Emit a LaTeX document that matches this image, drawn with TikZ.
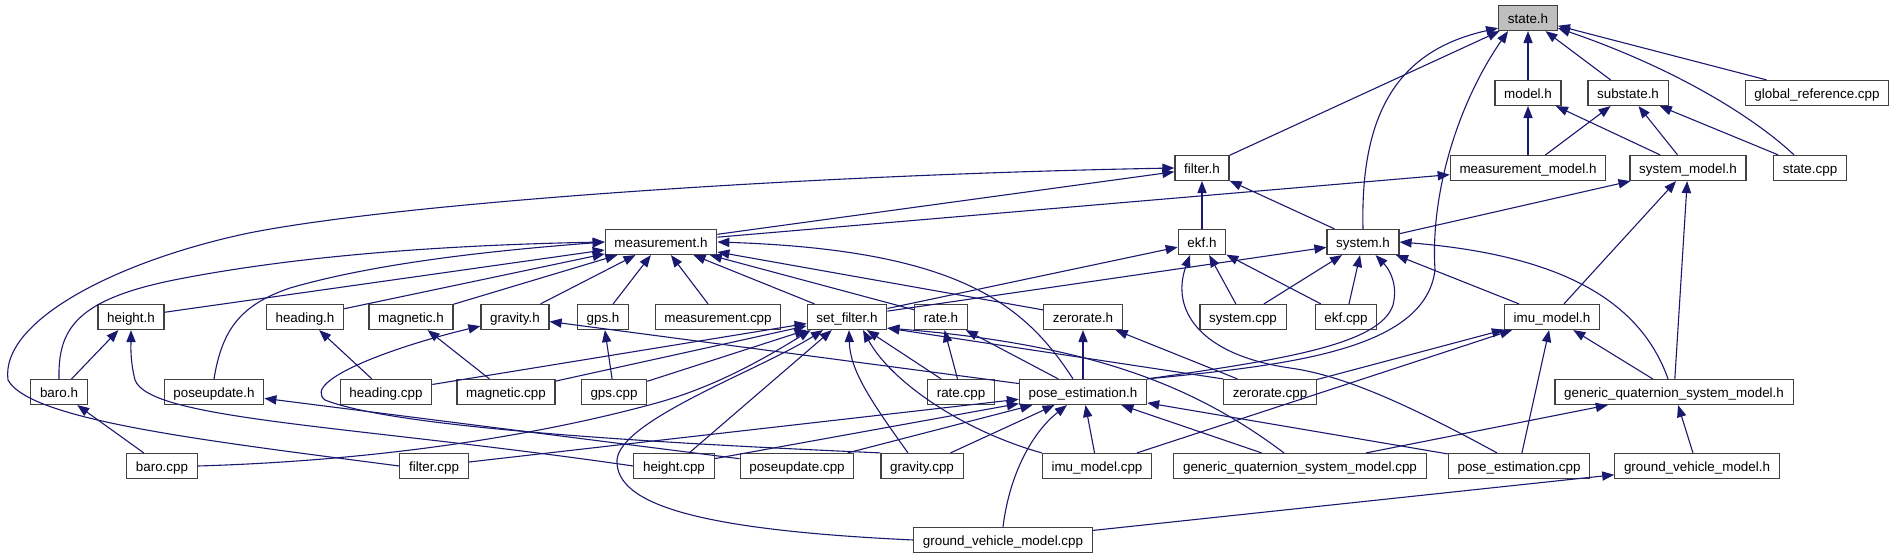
\documentclass[tikz,border=0pt]{standalone}
\usepackage{fontspec}
\setmainfont{Liberation Sans}
\usetikzlibrary{arrows.meta}
\definecolor{edgeblue}{HTML}{191970}

\begin{document}
\begin{tikzpicture}[x=0.5pt, y=-0.5pt,
            file/.style={draw=black!75, line width=0.6pt, fill=white, minimum height=12.5pt,
                inner xsep=4.6pt, inner ysep=0pt, text height=0.72em, text depth=0.2em,
                font=\fontsize{6.7}{8}\selectfont},
            dep/.style={draw=edgeblue, line width=0.55pt, -{Triangle[length=6pt, width=4.6pt]}}]
            \useasboundingbox (0,0) rectangle (1893,560);

            \node[file, fill=black!25] (state) at (1528,18) {state.h};

            \node[file] (model) at (1528,93) {model.h};
            \node[file] (substate) at (1628,93) {substate.h};
            \node[file] (globalref) at (1817,93) {global\_reference.cpp};

            \node[file] (filter) at (1202,168) {filter.h};
            \node[file] (measmodel) at (1528,168) {measurement\_model.h};
            \node[file] (sysmodel) at (1688,168) {system\_model.h};
            \node[file] (statecpp) at (1810,168) {state.cpp};

            \node[file] (meas) at (661,242) {measurement.h};
            \node[file] (ekf) at (1202,242) {ekf.h};
            \node[file] (system) at (1363,242) {system.h};

            \node[file] (height) at (131,317) {height.h};
            \node[file] (heading) at (305,317) {heading.h};
            \node[file] (magnetic) at (411,317) {magnetic.h};
            \node[file] (gravity) at (515,317) {gravity.h};
            \node[file] (gps) at (603,317) {gps.h};
            \node[file] (meascpp) at (718,317) {measurement.cpp};
            \node[file] (setfilter) at (847,317) {set\_filter.h};
            \node[file] (rate) at (941,317) {rate.h};
            \node[file] (zerorate) at (1083,317) {zerorate.h};
            \node[file] (syscpp) at (1243,317) {system.cpp};
            \node[file] (ekfcpp) at (1346,317) {ekf.cpp};
            \node[file] (imu) at (1552,317) {imu\_model.h};

            \node[file] (baro) at (59,392) {baro.h};
            \node[file] (poseupd) at (214,392) {poseupdate.h};
            \node[file] (headingcpp) at (386,392) {heading.cpp};
            \node[file] (magcpp) at (506,392) {magnetic.cpp};
            \node[file] (gpscpp) at (614,392) {gps.cpp};
            \node[file] (ratecpp) at (961,392) {rate.cpp};
            \node[file] (pose) at (1083,392) {pose\_estimation.h};
            \node[file] (zeroratecpp) at (1270,392) {zerorate.cpp};
            \node[file] (gqsm) at (1674,392) {generic\_quaternion\_system\_model.h};

            \node[file] (barocpp) at (162,466) {baro.cpp};
            \node[file] (filtercpp) at (434,466) {filter.cpp};
            \node[file] (heightcpp) at (674,466) {height.cpp};
            \node[file] (poseupdcpp) at (797,466) {poseupdate.cpp};
            \node[file] (gravitycpp) at (922,466) {gravity.cpp};
            \node[file] (imucpp) at (1097,466) {imu\_model.cpp};
            \node[file] (gqsmcpp) at (1300,466) {generic\_quaternion\_system\_model.cpp};
            \node[file] (posecpp) at (1519,466) {pose\_estimation.cpp};
            \node[file] (gvm) at (1697,466) {ground\_vehicle\_model.h};

            \node[file] (gvmcpp) at (1003,540) {ground\_vehicle\_model.cpp};

            \draw[dep] (filter) -- (state);
            \draw[dep] (system.north) .. controls (1360,110) and (1400,50) .. ([yshift=1.5pt]state.south west);
            \draw[dep] (pose.north east) .. controls (1290,365) and (1425,350) .. (1435,270)
                .. controls (1430,190) and (1460,100) .. ([xshift=-10pt]state.south);
            \draw[dep] (model) -- (state);
            \draw[dep] (substate) -- (state);
            \draw[dep] ([xshift=-8pt]statecpp.north) .. controls (1757,120) and (1680,70) .. ([yshift=1.5pt]state.south east);
            \draw[dep] (globalref) -- (state);

            \draw[dep] (measmodel) -- (model);
            \draw[dep] (sysmodel) -- (model);
            \draw[dep] (measmodel) -- (substate);
            \draw[dep] (sysmodel) -- (substate);
            \draw[dep] (statecpp) -- (substate);

            \draw[dep] (meas) -- (filter);
            \draw[dep] (ekf) -- (filter);
            \draw[dep] (system) -- (filter);
            \draw[dep] (filtercpp.west) .. controls (200,440) and (30,420) .. (8,380)
                .. controls (0,320) and (120,260) .. (249,233)
                .. controls (400,203) and (800,175) .. (filter.west);
            \draw[dep] (meas) -- (measmodel);
            \draw[dep] (system) -- (sysmodel);
            \draw[dep] (imu) -- (sysmodel);
            \draw[dep] (gqsm) -- (sysmodel);

            \draw[dep] (setfilter) -- (ekf);
            \draw[dep] (syscpp) -- (ekf);
            \draw[dep] (ekfcpp) -- (ekf);
            \draw[dep] ([xshift=-11pt]posecpp.north) .. controls (1400,400) and (1340,375) .. (1290,368)
                .. controls (1200,355) and (1170,310) .. ([xshift=-6pt]ekf.south);
            \draw[dep] (setfilter) -- (system);
            \draw[dep] (syscpp) -- (system);
            \draw[dep] (ekfcpp) -- (system);
            \draw[dep] (pose.north east) .. controls (1280,360) and (1380,345) .. (1393,305)
                .. controls (1398,285) and (1390,270) .. ([xshift=-12pt]system.south east);
            \draw[dep] (imu) -- (system);
            \draw[dep] ([xshift=-3pt]gqsm.north) .. controls (1640,300) and (1560,255) .. (system.east);

            \draw[dep] (baro.north) .. controls (58,330) and (75,300) .. (174,280)
                .. controls (300,255) and (450,245) .. (meas.west);
            \draw[dep] (height) -- (meas);
            \draw[dep] (poseupd.north) .. controls (222,330) and (240,305) .. (290,288)
                .. controls (380,262) and (500,250) .. (meas.west);
            \draw[dep] (heading) -- (meas);
            \draw[dep] (magnetic) -- (meas);
            \draw[dep] (gravity) -- (meas);
            \draw[dep] (gps) -- (meas);
            \draw[dep] (meascpp) -- (meas);
            \draw[dep] (setfilter) -- (meas);
            \draw[dep] (rate) -- (meas);
            \draw[dep] (zerorate) -- (meas);
            \draw[dep] ([xshift=-5pt]pose.north) .. controls (1025,305) and (960,250) .. (meas.east);

            \draw[dep] (baro) -- (height);
            \draw[dep] (heightcpp.west) .. controls (350,425) and (150,420) .. (135,380)
                .. controls (130,360) and (131,345) .. (height.south);
            \draw[dep] (headingcpp) -- (heading);
            \draw[dep] (magcpp) -- (magnetic);
            \draw[dep] (gravitycpp.north west) .. controls (700,445) and (400,430) .. (325,400)
                .. controls (300,380) and (400,345) .. ([yshift=2pt]gravity.south west);
            \draw[dep] (pose) -- (gravity);
            \draw[dep] (gpscpp) -- (gps);

            \draw[dep] (headingcpp) -- (setfilter);
            \draw[dep] (magcpp) -- (setfilter);
            \draw[dep] (gpscpp) -- (setfilter);
            \draw[dep] (barocpp.east) .. controls (400,460) and (560,430) .. (660,402)
                .. controls (720,385) and (770,355) .. ([xshift=2pt]setfilter.south west);
            \draw[dep] (gvmcpp.west) .. controls (700,530) and (615,505) .. (617,460)
                .. controls (620,420) and (760,370) .. ([xshift=-12pt]setfilter.south);
            \draw[dep] (heightcpp) -- (setfilter);
            \draw[dep] ([xshift=-7pt]gravitycpp.north) .. controls (870,400) and (850,370) .. ([xshift=1pt]setfilter.south);
            \draw[dep] (imucpp.north west) .. controls (960,430) and (890,380) .. ([xshift=8pt]setfilter.south);
            \draw[dep] (ratecpp) -- (setfilter);
            \draw[dep] (zeroratecpp.north west) -- ([yshift=1pt]setfilter.south east);
            \draw[dep] ([xshift=-8pt]gqsmcpp.north) .. controls (1200,390) and (1100,345) .. ([yshift=1pt]setfilter.south east);

            \draw[dep] (ratecpp) -- (rate);
            \draw[dep] (pose) -- (rate);
            \draw[dep] (pose) -- (zerorate);
            \draw[dep] (zeroratecpp) -- (zerorate);

            \draw[dep] (zeroratecpp) -- (imu);
            \draw[dep] (imucpp) -- (imu);
            \draw[dep] (posecpp) -- (imu);
            \draw[dep] (gqsm) -- (imu);

            \draw[dep] (barocpp) -- (baro);
            \draw[dep] (poseupdcpp) -- (poseupd);

            \draw[dep] (filtercpp) -- (pose);
            \draw[dep] (heightcpp) -- (pose);
            \draw[dep] (poseupdcpp) -- (pose);
            \draw[dep] (gravitycpp) -- (pose);
            \draw[dep] (gvmcpp.north) .. controls (1010,470) and (1035,430) .. ([xshift=-8pt]pose.south);
            \draw[dep] (imucpp) -- (pose);
            \draw[dep] (gqsmcpp) -- (pose);
            \draw[dep] (posecpp) -- (pose);

            \draw[dep] (gqsmcpp) -- (gqsm);
            \draw[dep] (gvm) -- (gqsm);
            \draw[dep] (gvmcpp) -- (gvm);
        \end{tikzpicture}
\end{document}
